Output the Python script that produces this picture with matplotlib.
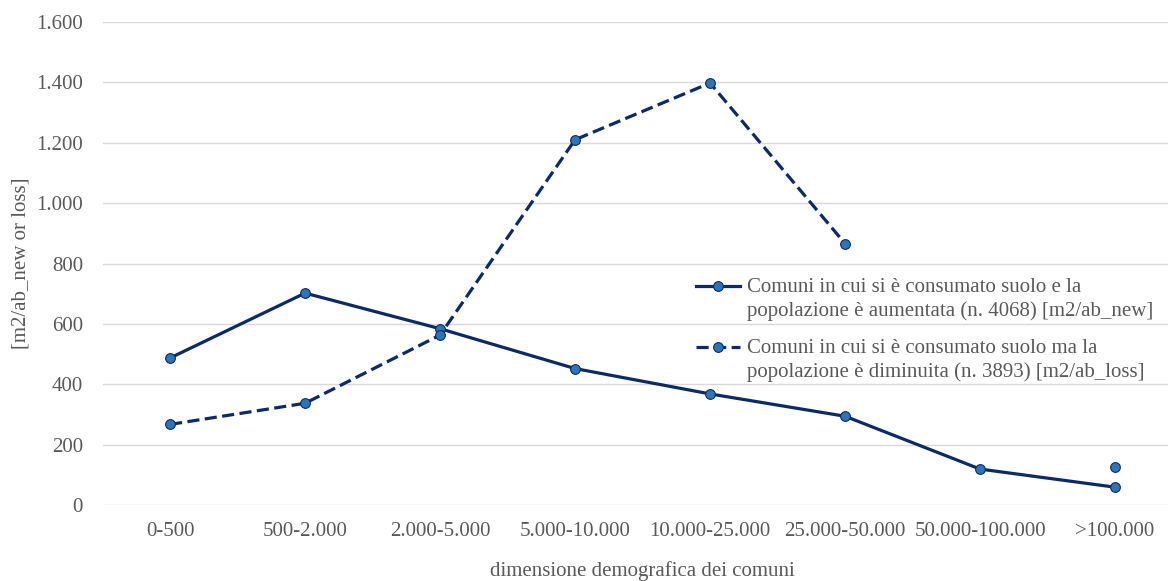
import matplotlib as mpl
import matplotlib.pyplot as plt
import matplotlib.ticker as ticker
from matplotlib.legend_handler import HandlerLine2D
import numpy as np

mpl.rcParams['font.family'] = 'serif'
mpl.rcParams['font.serif'] = ['Liberation Serif', 'DejaVu Serif']
mpl.rcParams['font.size'] = 15

# ---------------------------------------------------------------------------- #

categories = ['0-500', '500-2.000', '2.000-5.000', '5.000-10.000', '10.000-25.000',
              '25.000-50.000', '50.000-100.000', '>100.000']
aumentata = [487, 702, 584, 452, 368, 294, 119, 59]
diminuita = [267, 337, 563, 1210, 1398, 866, np.nan, 125]

label_new = 'Comuni in cui si è consumato suolo e la\npopolazione è aumentata (n. 4068) [m2/ab_new]'
label_loss = 'Comuni in cui si è consumato suolo ma la\npopolazione è diminuita (n. 3893) [m2/ab_loss]'

line_color = '#0B2A66'
marker_face = '#2E75B6'
text_color = '#595959'
grid_color = '#D9D9D9'
fs = 15


# Legend handle aligned with the first line of a two-line label (Excel style).
class HandlerTop(HandlerLine2D):
    def create_artists(self, legend, orig_handle, xdescent, ydescent, width,
                       height, fontsize, trans):
        arts = super().create_artists(legend, orig_handle, xdescent, ydescent,
                                      width, height, fontsize, trans)
        for a in arts:
            a.set_ydata(np.asarray(a.get_ydata(), dtype=float) + 0.65 * fontsize)
        return arts

# ---------------------------------------------------------------------------- #

fig = plt.figure(figsize=(11.68, 5.81), dpi=100)
ax = fig.add_axes([0.0878, 0.1308, 0.9247, 0.8313])

x = np.arange(len(categories))
l1, = ax.plot(x, aumentata, color=line_color, linewidth=2.3, marker='o', markersize=7,
              markerfacecolor=marker_face, markeredgecolor=line_color, markeredgewidth=0.8,
              label=label_new)
l2, = ax.plot(x, diminuita, color=line_color, linewidth=2.3, linestyle=(0, (3.8, 1.7)),
              marker='o', markersize=7, markerfacecolor=marker_face,
              markeredgecolor=line_color, markeredgewidth=0.8, label=label_loss)

ax.set_xlim(-0.5, len(categories) - 0.5)
ax.set_ylim(0, 1600)
ax.yaxis.set_major_locator(ticker.MultipleLocator(200))
ax.yaxis.set_major_formatter(ticker.FuncFormatter(lambda v, p: f'{int(v):,}'.replace(',', '.')))
ax.set_xticks(x)
ax.set_xticklabels(categories)

ax.grid(axis='y', color=grid_color, linewidth=1.0)
ax.set_axisbelow(True)
for s in ax.spines.values():
    s.set_visible(False)
ax.tick_params(axis='both', length=0, colors=text_color, labelsize=fs)
ax.tick_params(axis='x', pad=12)
ax.tick_params(axis='y', pad=14)

ax.set_ylabel('[m2/ab_new or loss]', color=text_color, fontsize=fs, labelpad=4)
ax.set_xlabel('dimensione demografica dei comuni', color=text_color, fontsize=fs, labelpad=15)

leg = ax.legend(loc='upper left', bbox_to_anchor=(0.532, 0.509), frameon=False,
                handlelength=2.1, handletextpad=0.35, labelspacing=0.85, fontsize=fs,
                handler_map={l1: HandlerTop(), l2: HandlerTop()})
for t in leg.get_texts():
    t.set_color(text_color)
    t.set_linespacing(1.3)

plt.savefig('out.png', dpi=100)
